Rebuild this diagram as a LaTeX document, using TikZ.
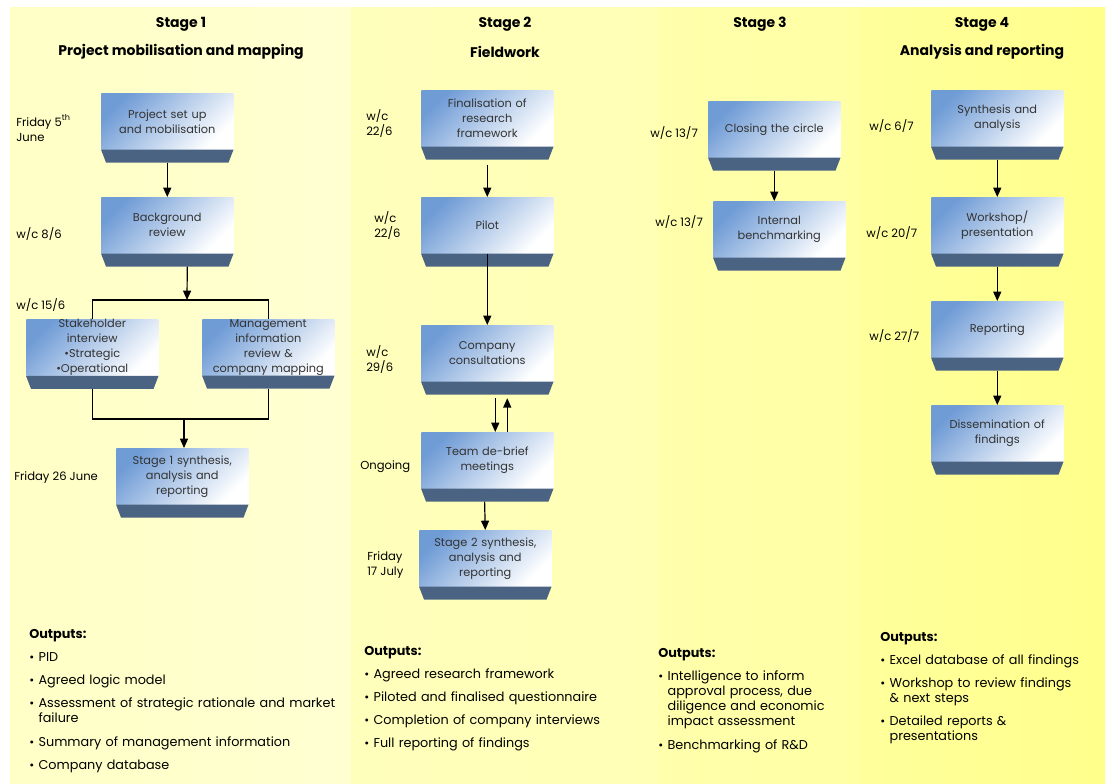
\documentclass[tikz,border=0pt]{standalone}
\usepackage{fontspec}
\setmainfont{Poppins}
\usetikzlibrary{arrows.meta}

\definecolor{boxblue}{RGB}{112,156,214}
\definecolor{footblue}{RGB}{74,99,131}
\definecolor{stagea}{RGB}{255,255,198}
\definecolor{stageb}{RGB}{255,255,210}
\definecolor{stagec}{RGB}{255,255,188}
\definecolor{staged}{RGB}{255,255,182}
\definecolor{stagee}{RGB}{255,255,172}
\definecolor{stagef}{RGB}{255,255,164}
\definecolor{stageg}{RGB}{255,255,156}
\definecolor{stageh}{RGB}{255,255,140}

\newcommand\stepfont{\fontsize{8.5}{11.25}\selectfont}
\newcommand\datefont{\fontsize{8.7}{11.25}\selectfont}
\newcommand\outfont{\fontsize{9.6}{11.25}\selectfont}
\newcommand\headfont{\fontsize{10.5}{12}\selectfont\bfseries}
\newcommand\outitem[1]{\par\vskip6pt\noindent\makebox[7pt][l]{{\small\textbullet}}\parbox[t]{230pt}{#1\strut}}

\tikzset{
    stepbox/.style={anchor=north west, shade, top color=boxblue, bottom color=white,
        shading angle=45, minimum width=99pt, minimum height=42pt, text width=95pt,
        align=center, inner sep=0pt, font=\stepfont, text=black!80},
    datelabel/.style={anchor=west, align=left, inner sep=0pt, font=\datefont},
    stagehead/.style={font=\headfont},
    outbox/.style={anchor=north west, inner sep=0pt, text width=250pt, font=\outfont},
    arr/.style={-{Triangle[length=7pt,width=6pt]}, line width=0.9pt},
    link/.style={line width=0.8pt}
}

\begin{document}
\begin{tikzpicture}[x=0.75pt, y=-0.75pt]
    \useasboundingbox (0,0) rectangle (1110,783);
    \fill[white] (0,0) rectangle (1110,783);

    % stage columns
    \shade[left color=stagea, right color=stageb] (10,7) rectangle (351,783);
    \shade[left color=stagec, right color=staged] (351,7) rectangle (658,783);
    \shade[left color=stagee, right color=stagef] (658,7) rectangle (860,783);
    \shade[left color=stageg, right color=stageh] (860,7) rectangle (1105,783);

    % headings
    \node[stagehead] (h1) at (181,24) {Stage 1};
    \node[stagehead] (t1) at (181,52) {Project mobilisation and mapping};
    \node[stagehead] (h2) at (505,24) {Stage 2};
    \node[stagehead] (t2) at (505,52) {Fieldwork};
    \node[stagehead] (h3) at (760,24) {Stage 3};
    \node[stagehead] (h4) at (982,24) {Stage 4};
    \node[stagehead] (t4) at (982,52) {Analysis and reporting};

    % stage 1
    \node[stepbox] (b1) at (101,93) {Project set up\\and mobilisation};
    \node[stepbox] (b2) at (101,197) {Background\\review};
    \node[stepbox] (b3) at (26,319) {Stakeholder\\interview\\\textbullet Strategic\\\textbullet Operational};
    \node[stepbox] (b4) at (202,319) {Management\\information\\review \&\\company mapping};
    \node[stepbox] (b5) at (116,448) {Stage 1 synthesis,\\analysis and\\reporting};

    % stage 2
    \node[stepbox] (c1) at (421,90) {Finalisation of\\research\\framework};
    \node[stepbox] (c2) at (421,197) {Pilot};
    \node[stepbox] (c3) at (421,325) {Company\\consultations};
    \node[stepbox] (c4) at (421,432) {Team de-brief\\meetings};
    \node[stepbox] (c5) at (419,530) {Stage 2 synthesis,\\analysis and\\reporting};

    % stage 3
    \node[stepbox] (d1) at (708,101) {Closing the circle};
    \node[stepbox] (d2) at (713,201) {Internal\\benchmarking};

    % stage 4
    \node[stepbox] (e1) at (931,90) {Synthesis and\\analysis};
    \node[stepbox] (e2) at (931,197) {Workshop/\\presentation};
    \node[stepbox] (e3) at (931,301) {Reporting};
    \node[stepbox] (e4) at (931,405) {Dissemination of\\findings};

    \foreach \n in {b1,b2,b3,b4,b5,c1,c2,c3,c4,c5,d1,d2,e1,e2,e3,e4}
        {
            \fill[footblue] (\n.south west) -- (\n.south east)
                -- ([shift={(-3.75pt,-9.75pt)}]\n.south east)
                -- ([shift={(3.75pt,-9.75pt)}]\n.south west) -- cycle;
        }

    % dates
    \node[datelabel] (l1) at (16,128) {Friday 5\textsuperscript{th}\\June};
    \node[datelabel] (l2) at (16,234) {w/c 8/6};
    \node[datelabel] (l3) at (16,305) {w/c 15/6};
    \node[datelabel] (l4) at (14,478) {Friday 26 June};
    \node[datelabel] (m1) at (366,124) {w/c\\22/6};
    \node[datelabel] (m2) at (374,226) {w/c\\22/6};
    \node[datelabel] (m3) at (366,360) {w/c\\29/6};
    \node[datelabel] (m4) at (360,467) {Ongoing};
    \node[datelabel] (m5) at (367,565) {Friday\\17 July};
    \node[datelabel] (n1) at (650,133) {w/c 13/7};
    \node[datelabel] (n2) at (655,222) {w/c 13/7};
    \node[datelabel] (p1) at (869,126) {w/c 6/7};
    \node[datelabel] (p2) at (866,233) {w/c 20/7};
    \node[datelabel] (p3) at (869,336) {w/c 27/7};

    % connectors
    \coordinate (split) at (187,300);
    \coordinate (merge) at (184,419);
    \draw[arr] ([yshift=-9.75pt]b1.south) -- (b2.north);
    \draw[arr] ([xshift=15pt,yshift=-9.75pt]b2.south) -- (split);
    \draw[link] (b3.north) |- (split) -| (b4.north);
    \draw[link] ([yshift=-9.75pt]b3.south) |- (merge) -| ([yshift=-9.75pt]b4.south);
    \draw[arr] (merge) -- (merge |- b5.north);

    \draw[arr] ([yshift=-13.5pt]c1.south) -- (c2.north);
    \draw[arr] (c2.south) -- (c3.north);
    \draw[arr] ([xshift=6pt,yshift=-12.5pt]c3.south) -- ([xshift=6pt]c4.north);
    \draw[arr] ([xshift=15pt]c4.north) -- ([xshift=15pt,yshift=-12.5pt]c3.south);
    \draw[arr] ([xshift=-2pt,yshift=-9.75pt]c4.south) -- (c5.north);

    \draw[arr] ([yshift=-9.75pt]d1.south) -- (d1.south |- d2.north);

    \draw[arr] ([yshift=-9.75pt]e1.south) -- (e2.north);
    \draw[arr] ([yshift=-9.75pt]e2.south) -- (e3.north);
    \draw[arr] ([yshift=-9.75pt]e3.south) -- (e4.north);

    % outputs
    \node[outbox] (o1) at (29,629) {\textbf{Outputs:}%
        \outitem{PID}%
        \outitem{Agreed logic model}%
        \outitem{Assessment of strategic rationale and market\\failure}%
        \outitem{Summary of management information}%
        \outitem{Company database}};
    \node[outbox] (o2) at (364,646) {\textbf{Outputs:}%
        \outitem{Agreed research framework}%
        \outitem{Piloted and finalised questionnaire}%
        \outitem{Completion of company interviews}%
        \outitem{Full reporting of findings}};
    \node[outbox] (o3) at (658,648) {\textbf{Outputs:}%
        \outitem{Intelligence to inform\\approval process, due\\diligence and economic\\impact assessment}%
        \outitem{Benchmarking of R\&D}};
    \node[outbox] (o4) at (880,632) {\textbf{Outputs:}%
        \outitem{Excel database of all findings}%
        \outitem{Workshop to review findings\\\& next steps}%
        \outitem{Detailed reports \&\\presentations}};
\end{tikzpicture}
\end{document}
